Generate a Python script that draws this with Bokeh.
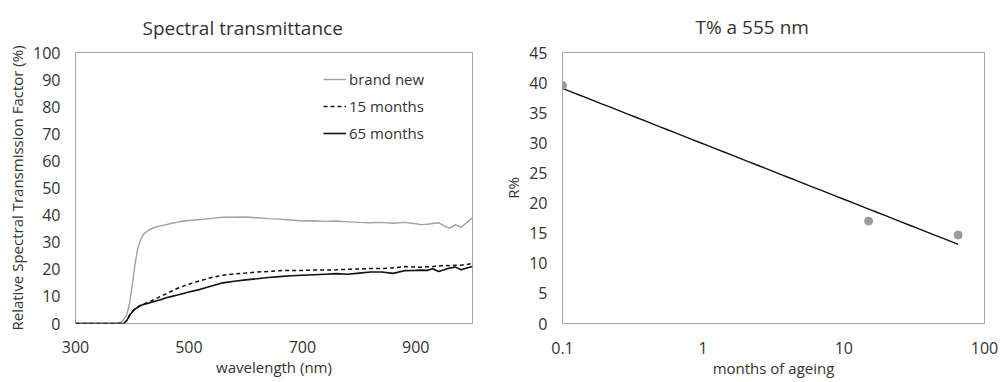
import numpy as np
from bokeh.plotting import figure
from bokeh.layouts import row
from bokeh.models import (Range1d, FixedTicker, Legend, LegendItem, Title)
from bokeh.embed import file_html
from bokeh.resources import INLINE

# ---------------- data ----------------
wavelength = [300, 320, 340, 360, 375, 380, 385, 390, 395, 400, 405, 410, 415, 420, 430, 440,
              450, 460, 470, 480, 490, 500, 520, 540, 560, 580, 600, 620, 640, 660, 680, 700,
              720, 740, 760, 780, 800, 820, 840, 860, 880, 900, 910, 920, 930, 940, 950, 960,
              970, 980, 990, 1000]
brand_new = [0, 0, 0, 0, 0, 0.5, 1.5, 3, 7, 14, 22, 28, 31, 33, 34.6, 35.5,
             36, 36.5, 37, 37.4, 37.8, 38, 38.4, 38.8, 39.2, 39.2, 39.3, 39, 38.7, 38.5, 38.2, 37.8,
             37.9, 37.7, 37.8, 37.5, 37.3, 37.2, 37.3, 37, 37.3, 36.8, 36.5, 36.6, 36.9, 37.2, 36, 35.2,
             36.5, 35.5, 37.3, 39]
m15 = [0, 0, 0, 0, 0, 0, 0, 1, 3, 4.5, 5.5, 6.2, 6.8, 7.2, 8, 9,
       10, 11, 12, 13, 13.8, 14.5, 15.8, 17, 17.8, 18.3, 18.6, 19, 19.2, 19.5, 19.6, 19.6,
       19.7, 19.7, 19.8, 20, 20.1, 20.3, 20.3, 20.5, 21, 20.8, 20.8, 20.9, 21, 21.2, 21.5, 21.3,
       21.5, 21.5, 21.8, 22.2]
m65 = [0, 0, 0, 0, 0, 0, 0, 1, 2.8, 4.3, 5.3, 6, 6.6, 7, 7.6, 8.2,
       8.8, 9.5, 10, 10.5, 11.1, 11.6, 12.6, 13.8, 15, 15.6, 16.1, 16.5, 17, 17.3, 17.6, 17.8,
       18, 18.2, 18.4, 18.2, 18.6, 19, 19, 18.5, 19.5, 19.6, 19.7, 19.6, 20.2, 19.2, 19.8, 20.5,
       20.8, 19.8, 20.5, 21]

months = [0.1, 15, 65]
t555 = [39.5, 17.0, 14.7]

left_xticks = [300, 500, 700, 900]
left_yticks = [0, 10, 20, 30, 40, 50, 60, 70, 80, 90, 100]
right_xticks = [0.1, 1, 10, 100]
right_xtick_labels = ["0.1", "1", "10", "100"]
right_yticks = [0, 5, 10, 15, 20, 25, 30, 35, 40, 45]

FONT = "Open Sans"
TXT = "#333333"
FRAME = "#a6a6a6"
GRAY = "#a0a0a0"


def style(p, xlabel, ylabel, xstand):
    p.outline_line_color = FRAME
    p.outline_line_width = 1
    p.xgrid.visible = False
    p.ygrid.visible = False
    for ax in (p.xaxis[0], p.yaxis[0]):
        ax.axis_line_color = None
        ax.major_tick_line_color = None
        ax.minor_tick_line_color = None
        ax.major_tick_in = 0
        ax.major_tick_out = 0
        ax.minor_tick_in = 0
        ax.minor_tick_out = 0
        ax.major_label_text_font = FONT
        ax.major_label_text_font_size = "16px"
        ax.major_label_text_color = TXT
        ax.axis_label_text_font = FONT
        ax.axis_label_text_font_size = "15px"
        ax.axis_label_text_font_style = "normal"
        ax.axis_label_text_color = TXT
    p.xaxis[0].axis_label = xlabel
    p.yaxis[0].axis_label = ylabel
    p.xaxis[0].major_label_standoff = xstand
    p.yaxis[0].major_label_standoff = 15
    p.xaxis[0].axis_label_standoff = 1
    p.yaxis[0].axis_label_standoff = 3


def set_title(p, text, offset, standoff):
    t = p.title
    t.text = text
    t.align = "left"
    t.vertical_align = "middle"
    t.offset = offset
    t.standoff = standoff
    t.text_font = FONT
    t.text_font_size = "19px"
    t.text_font_style = "normal"
    t.text_color = TXT


# ---------------- left chart ----------------
p1 = figure(width=500, height=382, min_border_left=75, min_border_right=28,
            min_border_top=50, min_border_bottom=59, output_backend="svg", toolbar_location=None,
            x_range=Range1d(300, 1000), y_range=Range1d(0, 100))
style(p1, "wavelength (nm)", "Relative Spectral Transmission Factor (%)", 17)
p1.xaxis[0].ticker = FixedTicker(ticks=left_xticks)
p1.yaxis[0].ticker = FixedTicker(ticks=left_yticks)
set_title(p1, "Spectral transmittance", 67, 22)

r_new = p1.line(wavelength, brand_new, line_color=GRAY, line_width=1.4)
r_15 = p1.line(wavelength, m15, line_color="#111111", line_width=1.5, line_dash="4 3")
r_65 = p1.line(wavelength, m65, line_color="#111111", line_width=1.6)

legend = Legend(items=[LegendItem(label="brand new", renderers=[r_new]),
                       LegendItem(label="15 months", renderers=[r_15]),
                       LegendItem(label="65 months", renderers=[r_65])],
                location=(248, 180), border_line_color=None, background_fill_alpha=0,
                padding=0, margin=0, spacing=7, glyph_width=23, glyph_height=20,
                label_height=20, label_standoff=3, label_text_font=FONT,
                label_text_font_size="15px", label_text_color=TXT)
p1.add_layout(legend)

# ---------------- right chart ----------------
p2 = figure(width=502, height=382, min_border_left=62, min_border_right=18,
            min_border_top=52, min_border_bottom=54, output_backend="svg", toolbar_location=None,
            x_axis_type="log", x_range=Range1d(0.1, 100), y_range=Range1d(0, 45))
style(p2, "months of ageing", "R%", 18)
p2.xaxis[0].ticker = FixedTicker(ticks=right_xticks)
p2.xaxis[0].major_label_overrides = {t: s for t, s in zip(right_xticks, right_xtick_labels)}
p2.yaxis[0].ticker = FixedTicker(ticks=right_yticks)
set_title(p2, "T% a 555 nm", 133, 24)

# logarithmic trendline fitted to the data points
lx = np.log(np.array(months))
b, a = np.polyfit(lx, np.array(t555), 1)
xt = np.logspace(np.log10(months[0]), np.log10(months[-1]), 50)
p2.line(xt, a + b * np.log(xt), line_color="#111111", line_width=1.4)
p2.scatter(months, t555, size=8, fill_color="#9a9a9a", line_color="#9a9a9a")

layout = row(p1, p2, spacing=0)
open("out.html", "w").write(file_html(layout, INLINE))
